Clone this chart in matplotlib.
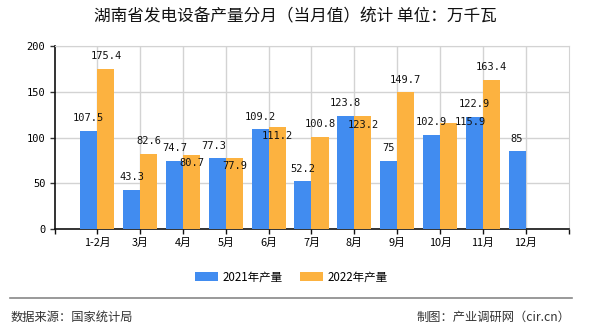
import numpy as np
import matplotlib.pyplot as plt

plt.rcParams['font.family'] = ['Noto Sans CJK SC', 'DejaVu Sans']

months = ['1-2月', '3月', '4月', '5月', '6月', '7月', '8月', '9月', '10月', '11月', '12月']
prod_2021 = [107.5, 43.3, 74.7, 77.3, 109.2, 52.2, 123.8, 75, 102.9, 122.9, 85]
prod_2022 = [175.4, 82.6, 80.7, 77.9, 111.2, 100.8, 123.2, 149.7, 115.9, 163.4]
yticks = [0, 50, 100, 150, 200]

# label shifts in pixels (dx, dy of label centre from default spot)
shift_2021 = {3: (-4, 0)}
shift_2022 = {2: (0, -20), 3: (0, -21), 4: (0, -21), 6: (0, -21), 8: (22, -11)}

c_blue = '#418cf0'
c_orange = '#fcb240'

fig = plt.figure(figsize=(5.9, 3.3), dpi=100)
ax = fig.add_axes([54.5 / 590, 1 - 229.3 / 330, 514 / 590, 183.3 / 330])

x = np.arange(len(months))
w = 0.4
ax.bar(x[:len(prod_2021)] - w / 2, prod_2021, w, color=c_blue, label='2021年产量', zorder=3)
ax.bar(x[:len(prod_2022)] + w / 2, prod_2022, w, color=c_orange, label='2022年产量', zorder=3)

px = 0.72  # points per pixel


def put_labels(xs, vals, shifts):
    for i, (xx, v) in enumerate(zip(xs, vals)):
        dx, dy = shifts.get(i, (0, 0))
        txt = f'{v:g}'
        ax.annotate(txt, (xx, v), xytext=(dx * px, (12.5 + dy) * px),
                    textcoords='offset points', ha='center', va='center',
                    fontsize=7.5, family='DejaVu Sans Mono', color='#111111',
                    zorder=5)


put_labels(x[:len(prod_2021)] - w / 2, prod_2021, shift_2021)
put_labels(x[:len(prod_2022)] + w / 2, prod_2022, shift_2022)

ax.set_xlim(-1, 11)
ax.set_ylim(0, 200)
ax.set_xticks(x)
ax.set_xticklabels(months, fontsize=7.8)
ax.set_xticks([-1, 11], minor=True)
ax.set_yticks(yticks)
ax.set_yticklabels([str(t) for t in yticks], family='DejaVu Sans Mono', fontsize=7.5)
ax.tick_params(axis='x', which='both', length=3.5, width=1, color='#111111', pad=3)
ax.tick_params(axis='y', length=3.5, width=1, color='#333333', pad=3)
ax.grid(True, color='#d3d3d3', lw=1, zorder=0)
ax.set_axisbelow(True)
for s in ['top', 'right']:
    ax.spines[s].set_color('#d3d3d3')
for s in ['left', 'bottom']:
    ax.spines[s].set_color('#111111')
    ax.spines[s].set_linewidth(1.2)

fig.text(295 / 590, 1 - 17 / 330, '湖南省发电设备产量分月（当月值）统计 单位：万千瓦',
         ha='center', va='center', fontsize=12, color='#111111')

fig.legend(loc='center', bbox_to_anchor=(291 / 590, 1 - 277 / 330), ncol=2,
           frameon=False, fontsize=8.3, handlelength=2.0, handleheight=0.72,
           handletextpad=0.4, columnspacing=1.5)

fig.add_artist(plt.Line2D([10 / 590, 572 / 590], [1 - 298 / 330] * 2,
                          color='#888888', lw=1.2))
fig.text(11 / 590, 1 - 317 / 330, '数据来源：国家统计局', ha='left', va='center',
         fontsize=8.8, color='#333333')
fig.text(570 / 590, 1 - 317 / 330, '制图：产业调研网（cir.cn）', ha='right', va='center',
         fontsize=8.8, color='#333333')

fig.savefig('out.png', dpi=100)
